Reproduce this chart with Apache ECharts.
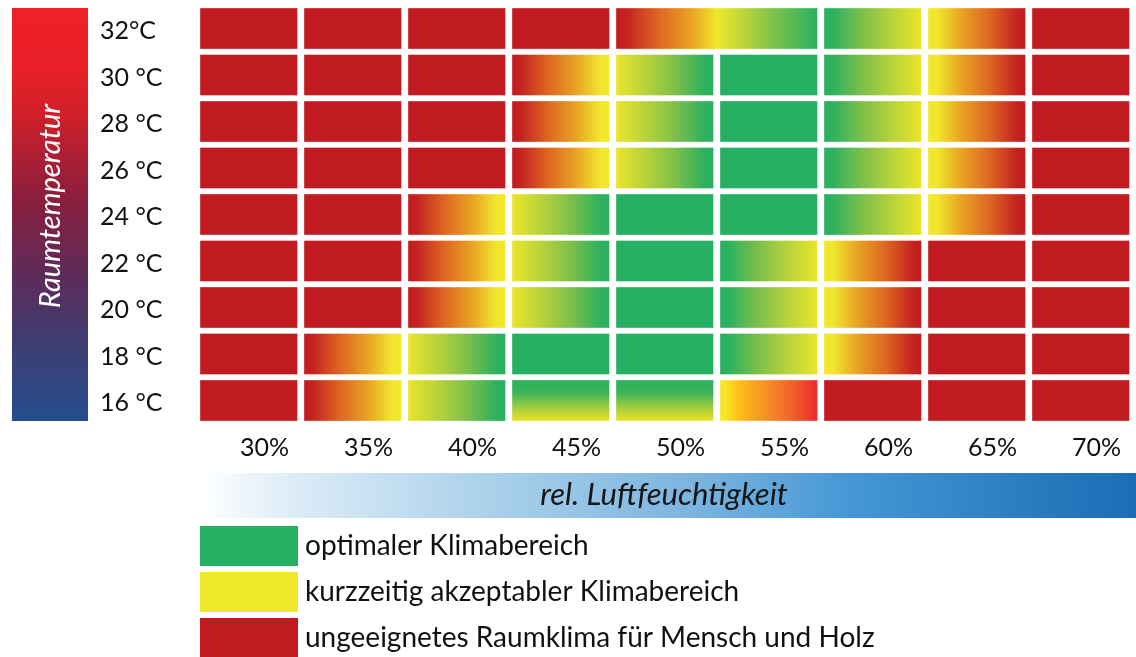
<!DOCTYPE html>
<html><head><meta charset="utf-8">
<script src="https://cdn.jsdelivr.net/npm/echarts@6/dist/echarts.min.js"></script>
<style>html,body{margin:0;padding:0;background:#fff}#c{width:1136px;height:657px}</style>
</head><body><div id="c"></div>
<script>
// ---- data ----
const humidity = ['30%','35%','40%','45%','50%','55%','60%','65%','70%'];
const temperatures = ['16 °C','18 °C','20 °C','22 °C','24 °C','26 °C','28 °C','30 °C','32°C'];
// zone codes: R=red, G=green, RY=red->yellow, YG=yellow->green, GY=green->yellow,
// YR=yellow->red, GYv=green(top)->yellow(bottom), YRb=yellow->bright red, RYG=red->yellow->green (2 columns), '-'=covered
const zone16 = ['R','RY','YG','GYv','GYv','YRb','R','R','R'];
const zone18 = ['R','RY','YG','G','G','GY','YR','R','R'];
const zone20 = ['R','R','RY','YG','G','GY','YR','R','R'];
const zone22 = ['R','R','RY','YG','G','GY','YR','R','R'];
const zone24 = ['R','R','RY','YG','G','G','GY','YR','R'];
const zone26 = ['R','R','R','RY','YG','G','GY','YR','R'];
const zone28 = ['R','R','R','RY','YG','G','GY','YR','R'];
const zone30 = ['R','R','R','RY','YG','G','GY','YR','R'];
const zone32 = ['R','R','R','R','RYG','-','GY','YR','R'];
const legendNames = ['optimaler Klimabereich','kurzzeitig akzeptabler Klimabereich','ungeeignetes Raumklima für Mensch und Holz'];

// ---- build ----
const zoneRows = [zone16, zone18, zone20, zone22, zone24, zone26, zone28, zone30, zone32];
const cellData = [], cellCodes = [];
zoneRows.forEach((row, r) => row.forEach((code, c) => { cellData.push([c, r]); cellCodes.push(code); }));

const RED = '#bf1b21', GREEN = '#25b064', YELLOW = '#f0e82a';
const LG = echarts.graphic.LinearGradient;
const stopsRY = [[0,'#c01b20'],[0.1,'#c42420'],[0.35,'#dc6221'],[0.65,'#e8a224'],[0.9,'#f1e62c'],[1,'#f1e82c']];
const stopsYG = [[0,'#ebe52a'],[0.3,'#b9d33a'],[0.6,'#7ec04a'],[0.9,'#2fb15e'],[1,'#28b060']];
const rev = s => s.map(([o,c]) => [1-o, c]).reverse();
const mk = (x2, y2, stops) => new LG(0, 0, x2, y2, stops.map(([offset, color]) => ({offset, color})));
const fills = {
  R: RED, G: GREEN,
  RY: mk(1,0,stopsRY), YG: mk(1,0,stopsYG), GY: mk(1,0,rev(stopsYG)), YR: mk(1,0,rev(stopsRY)),
  GYv: mk(0,1,[[0,'#2bb15f'],[0.3,'#3bb35a'],[0.7,'#a8cf3c'],[1,'#ede42a']]),
  YRb: mk(1,0,[[0,'#f3ea2a'],[0.06,'#f7e62a'],[0.18,'#fcc21c'],[0.5,'#f58c26'],[0.78,'#ee5a2a'],[1,'#ed2630']]),
  RYG: mk(1,0,[[0,'#c01b20'],[0.06,'#c52520'],[0.2,'#dc6221'],[0.38,'#e9a425'],[0.5,'#f0e82a'],[0.75,'#8ac448'],[1,'#28b060']])
};
const GAP_X = 6.5, GAP_Y = 5.5;

function renderItem(params, api) {
  const code = cellCodes[params.dataIndex];
  if (code === '-') return null;
  const c = api.coord([api.value(0), api.value(1)]);
  const s = api.size([1, 1]);
  const span = code === 'RYG' ? 2 : 1;
  return {
    type: 'rect',
    shape: { x: c[0] - s[0] / 2, y: c[1] - s[1] / 2, width: s[0] * span - GAP_X, height: s[1] - GAP_Y },
    style: { fill: fills[code], stroke: 'rgba(255,255,255,0.35)', lineWidth: 1 }
  };
}

const FONT = 'Lato';
const chart = echarts.init(document.getElementById('c'), null, { renderer: 'canvas' });
chart.setOption({
  animation: false,
  textStyle: { fontFamily: FONT },
  grid: { left: 200, top: 8, width: 943, height: 418.5 },
  xAxis: {
    type: 'category', data: humidity,
    axisLine: { show: false }, axisTick: { show: false }, splitLine: { show: false },
    axisLabel: { fontSize: 25, color: '#111', margin: 9, padding: [0, 0, 0, 25], fontFamily: FONT }
  },
  yAxis: {
    type: 'category', data: temperatures,
    axisLine: { show: false }, axisTick: { show: false }, splitLine: { show: false },
    axisLabel: { fontSize: 25, color: '#111', margin: 100, align: 'left', padding: [2, 0, 0, 0], fontFamily: FONT }
  },
  legend: {
    orient: 'vertical', left: 200, top: 526, height: 140, padding: 0,
    itemWidth: 98, itemHeight: 40, itemGap: 6, selectedMode: false,
    icon: 'rect',
    textStyle: { fontSize: 28, color: '#111', fontFamily: FONT, padding: [0, 0, 0, 2] },
    data: legendNames
  },
  graphic: [
    { type: 'rect', left: 12, top: 8, shape: { width: 76, height: 413 },
      style: { fill: new LG(0, 0, 0, 1, [
        {offset:0,color:'#ee2028'},{offset:0.12,color:'#ec2028'},{offset:0.25,color:'#d22028'},
        {offset:0.45,color:'#8e1e3c'},{offset:0.65,color:'#5c2c5a'},{offset:0.82,color:'#3e3e74'},{offset:1,color:'#254d8e'}]) } },
    { type: 'text', x: 51, y: 206, rotation: Math.PI / 2,
      style: { text: 'Raumtemperatur', fill: '#fff', font: 'italic 29px ' + FONT, align: 'center', verticalAlign: 'middle' } },
    { type: 'rect', left: 200, top: 473, shape: { width: 936, height: 45 },
      style: { fill: new LG(0, 0, 1, 0, [
        {offset:0,color:'#ffffff'},{offset:0.1,color:'#dcecf7'},{offset:0.32,color:'#a8cfea'},
        {offset:0.53,color:'#7ab4df'},{offset:0.7,color:'#4496d4'},{offset:1,color:'#1b6db5'}]) } },
    { type: 'text', x: 664, y: 495,
      style: { text: 'rel. Luftfeuchtigkeit', fill: '#151515', font: 'italic 31px ' + FONT, align: 'center', verticalAlign: 'middle' } }
  ],
  series: [
    { type: 'custom', renderItem, data: cellData, silent: true },
    { name: legendNames[0], type: 'bar', data: [], itemStyle: { color: GREEN } },
    { name: legendNames[1], type: 'bar', data: [], itemStyle: { color: YELLOW } },
    { name: legendNames[2], type: 'bar', data: [], itemStyle: { color: RED } }
  ]
});
</script>
</body></html>
